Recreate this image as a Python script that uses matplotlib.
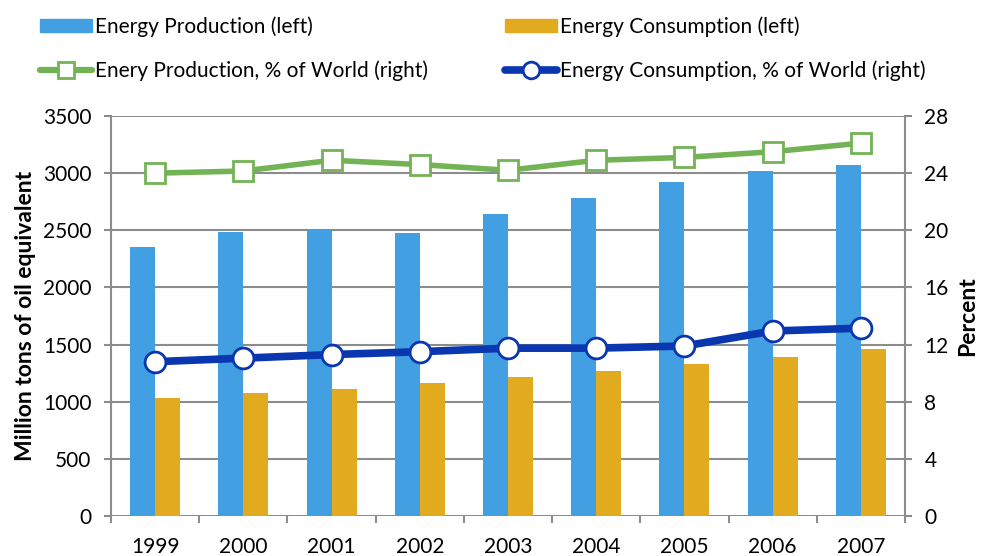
import matplotlib
matplotlib.use("Agg")
import matplotlib.pyplot as plt
import numpy as np
from matplotlib.lines import Line2D
from matplotlib.patches import Patch

plt.rcParams['font.family'] = ['Lato', 'DejaVu Sans']

years = ['1999', '2000', '2001', '2002', '2003', '2004', '2005', '2006', '2007']
production = [2354, 2485, 2503, 2476, 2643, 2783, 2923, 3019, 3071]
consumption = [1032, 1076, 1111, 1164, 1216, 1269, 1330, 1391, 1461]
prod_pct = [24.0, 24.15, 24.9, 24.6, 24.2, 24.9, 25.1, 25.5, 26.1]
cons_pct = [10.8, 11.05, 11.3, 11.5, 11.75, 11.75, 11.9, 12.95, 13.15]

c_prod = '#419FE2'
c_cons = '#E2AA1E'
c_gline = '#73B356'
c_bline = '#0A36B0'
grid_c = '#8C8C8C'
FS = 15

fig = plt.figure(figsize=(9.82, 5.56), dpi=100)
ax = fig.add_axes([111/982, 40/556, 794/982, 400/556])
ax2 = ax.twinx()
ax.set_zorder(1)
ax2.set_zorder(2)
ax.patch.set_visible(False)

x = np.arange(len(years))
w = 0.283
ax.bar(x - w/2, production, w, color=c_prod, zorder=3)
ax.bar(x + w/2, consumption, w, color=c_cons, zorder=3)

ax.set_xlim(-0.5, len(years) - 0.5)
ax.set_ylim(0, 3500)
ax.set_yticks(np.arange(0, 3501, 500))
ax.yaxis.grid(True, color=grid_c, linewidth=1.5, zorder=0)
ax.set_axisbelow(True)

ax.set_xticks(x)
ax.set_xticklabels(years)
ax.set_xticks(np.arange(-0.5, len(years), 1), minor=True)
ax.tick_params(axis='x', which='major', length=0, pad=15, labelsize=FS)
ax.tick_params(axis='x', which='minor', length=5, width=1.5, color=grid_c, direction='out')
ax.tick_params(axis='y', length=5, width=1.5, color=grid_c, labelsize=FS, pad=9)

ax2.plot(x, prod_pct, color=c_gline, lw=4, marker='s', ms=14.5, mfc='white',
         mec=c_gline, mew=2)
ax2.plot(x, cons_pct, color=c_bline, lw=5.5, marker='o', ms=15, mfc='white',
         mec=c_bline, mew=2)
ax2.set_ylim(0, 28)
ax2.set_yticks(np.arange(0, 29, 4))
ax2.tick_params(axis='y', length=5, width=1.5, color=grid_c, labelsize=FS, pad=9)

for a in (ax, ax2):
    for s in a.spines.values():
        s.set_visible(False)
ax.spines['left'].set_visible(True)
ax.spines['left'].set_color(grid_c)
ax.spines['left'].set_linewidth(1.5)
ax2.spines['right'].set_visible(True)
ax2.spines['right'].set_color(grid_c)
ax2.spines['right'].set_linewidth(1.5)

ax.set_ylabel('Million tons of oil equivalent', fontsize=16.5, fontweight='bold', labelpad=5)
ax2.set_ylabel('Percent', fontsize=16.5, fontweight='bold', labelpad=6)

h_prod = Patch(color=c_prod)
h_cons = Patch(color=c_cons)
h_g = Line2D([], [], color=c_gline, lw=4.5, marker='s', ms=11.5, mfc='white', mec=c_gline, mew=2,
             solid_capstyle='round')
h_b = Line2D([], [], color=c_bline, lw=5.5, marker='o', ms=12, mfc='white', mec=c_bline, mew=2,
             solid_capstyle='round')

common = dict(loc='upper left', frameon=False, fontsize=FS, handlelength=2.5,
              handleheight=0.62, handletextpad=0.15, labelspacing=1.15, borderpad=0,
              borderaxespad=0)
leg1 = fig.legend([h_prod, h_g], ['Energy Production (left)', 'Enery Production, % of World (right)'],
                  bbox_to_anchor=(40/982, 1 - 16/556), **common)
leg2 = fig.legend([h_cons, h_b], ['Energy Consumption (left)', 'Energy Consumption, % of World (right)'],
                  bbox_to_anchor=(505/982, 1 - 16/556), **common)

fig.savefig('out.png', dpi=100)
